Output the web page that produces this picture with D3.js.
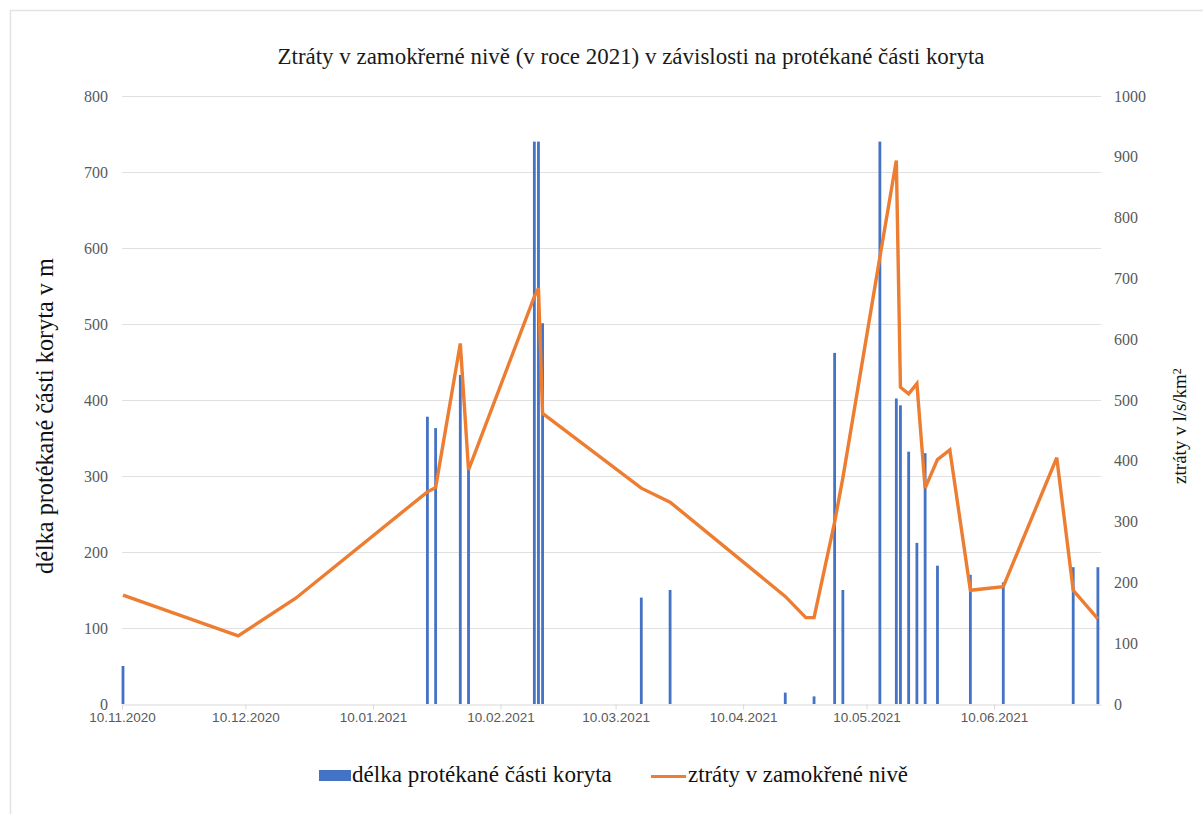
<!DOCTYPE html>
<html>
<head>
<meta charset="utf-8">
<script src="https://cdn.jsdelivr.net/npm/d3@7/dist/d3.min.js"></script>
<style>
  html, body { margin: 0; padding: 0; background: #fff; }
  svg { display: block; }
</style>
</head>
<body>
<svg id="chart" width="1203" height="814"></svg>
<script>
// Measurement dates (shared by both series)
const dates = ["2020-11-10","2020-12-08","2020-12-22","2021-01-23","2021-01-25","2021-01-31",
  "2021-02-02","2021-02-18","2021-02-19","2021-02-20","2021-03-16","2021-03-23","2021-04-20",
  "2021-04-25","2021-04-27","2021-05-02","2021-05-04","2021-05-13","2021-05-17","2021-05-18",
  "2021-05-20","2021-05-22","2021-05-24","2021-05-27","2021-05-30","2021-06-04","2021-06-12",
  "2021-06-25","2021-06-29","2021-07-05"];

// Length of the flowing part of the channel [m] (left axis); null = no bar
const delka = [50,null,null,378,363,433,312,740,740,501,140,150,15,null,10,462,150,740,402,393,
  332,212,330,182,null,170,160,null,180,180];

// Losses in the wetland floodplain [l/s/km²] (right axis)
const ztraty = [179,112,174,349,356,593,385,670,684,478,355,332,177,142,142,299,372,735,894,521,
  510,527,355,402,418,187,193,405,187,140];

const xTickLabels = ["10.11.2020","10.12.2020","10.01.2021","10.02.2021","10.03.2021",
  "10.04.2021","10.05.2021","10.06.2021"];
const leftTicks = [0,100,200,300,400,500,600,700,800];
const rightTicks = [0,100,200,300,400,500,600,700,800,900,1000];

const titleText = "Ztráty v zamokřerné nivě (v roce 2021) v závislosti na protékané části koryta";
const leftLabel = "délka protékané části koryta v m";
const legendBar = "délka protékané části koryta";
const legendLine = "ztráty v zamokřené nivě";

const parse = d3.timeParse("%Y-%m-%d");
const parseTick = d3.timeParse("%d.%m.%Y");
const rows = dates.map((d, i) => ({ date: parse(d), bar: delka[i], line: ztraty[i] }));

const svg = d3.select("#chart");
const serif = "'Liberation Serif', 'Times New Roman', serif";
const sans = "'Liberation Sans', Arial, sans-serif";

// chart frame
svg.append("path").attr("d", "M10.5,814 V10.5 H1203").attr("fill", "none")
  .attr("stroke", "#e3e3e3").attr("stroke-width", 1.5);

const plotLeft = 122, plotRight = 1101, plotTop = 96, plotBottom = 704;

const x = d3.scaleTime()
  .domain([parse("2020-11-10"), parse("2021-07-06")])
  .range([plotLeft, plotRight]);
const yL = d3.scaleLinear().domain([0, 800]).range([plotBottom, plotTop]);
const yR = d3.scaleLinear().domain([0, 1000]).range([plotBottom, plotTop]);

// gridlines
svg.append("g").selectAll("line").data(leftTicks.slice(1)).join("line")
  .attr("x1", plotLeft).attr("x2", plotRight)
  .attr("y1", d => yL(d) + 0.5).attr("y2", d => yL(d) + 0.5)
  .attr("stroke", "#e0e0e0").attr("stroke-width", 1);

// x axis
const xTicks = xTickLabels.map(parseTick);
const xAxis = d3.axisBottom(x).tickValues(xTicks).tickFormat(d3.timeFormat("%d.%m.%Y"))
  .tickSize(5).tickSizeOuter(0).tickPadding(3);
const gx = svg.append("g").attr("transform", `translate(0,${plotBottom + 0.5})`).call(xAxis);
gx.select(".domain").attr("stroke", "#d9d9d9");
gx.selectAll(".tick line").attr("stroke", "#d9d9d9");
gx.selectAll(".tick text").attr("font-family", sans).attr("font-size", 13.5)
  .attr("fill", "#595959").attr("dy", "0.72em");

// left axis
const gl = svg.append("g").attr("transform", `translate(${plotLeft},0)`)
  .call(d3.axisLeft(yL).tickValues(leftTicks).tickFormat(d3.format("d")).tickSize(0).tickPadding(14));
gl.select(".domain").remove();
gl.attr("font-family", serif);
gl.selectAll(".tick text").attr("font-family", serif).attr("font-size", 16).attr("fill", "#595959");

// right axis
const gr = svg.append("g").attr("transform", `translate(${plotRight},0)`)
  .call(d3.axisRight(yR).tickValues(rightTicks).tickFormat(d3.format("d")).tickSize(0).tickPadding(13));
gr.select(".domain").remove();
gr.attr("font-family", serif);
gr.selectAll(".tick text").attr("font-family", serif).attr("font-size", 16).attr("fill", "#595959");

// bars
const barW = 2.8;
svg.append("g").selectAll("rect").data(rows.filter(r => r.bar != null)).join("rect")
  .attr("x", d => x(d.date) - barW / 2 + 1)
  .attr("y", d => yL(d.bar))
  .attr("width", barW)
  .attr("height", d => yL(0) - yL(d.bar))
  .attr("fill", "#4472C4");

// line
const line = d3.line().x(d => x(d.date) + 1).y(d => yR(d.line));
svg.append("path").datum(rows).attr("d", line)
  .attr("fill", "none").attr("stroke", "#ED7D31").attr("stroke-width", 3.4)
  .attr("stroke-linejoin", "miter").attr("stroke-miterlimit", 3);

// helper: scale a text's font size so it spans the given width
function fitWidth(sel, width) {
  const node = sel.node();
  const fs = parseFloat(sel.attr("font-size"));
  const w = node.getComputedTextLength();
  if (w > 0) sel.attr("font-size", (fs * width / w).toFixed(2));
}

// title
const title = svg.append("text").attr("x", 631).attr("y", 64).attr("text-anchor", "middle")
  .attr("font-family", serif).attr("font-size", 20).attr("fill", "#1a1a1a").text(titleText);
fitWidth(title, 707);

// left axis title
const lt = svg.append("text").attr("transform", "translate(53,416) rotate(-90)")
  .attr("text-anchor", "middle").attr("font-family", serif).attr("font-size", 20)
  .attr("fill", "#111").text(leftLabel);
fitWidth(lt, 316);

// right axis title
const rt = svg.append("text").attr("transform", "translate(1186,426) rotate(-90)")
  .attr("text-anchor", "middle").attr("font-family", serif).attr("font-size", 19)
  .attr("fill", "#111");
rt.append("tspan").text("ztráty v l/s/km");
rt.append("tspan").attr("dy", "-0.45em").attr("font-size", 12).text("2");

// legend
svg.append("rect").attr("x", 319).attr("y", 770).attr("width", 32).attr("height", 11)
  .attr("fill", "#4472C4");
const l1 = svg.append("text").attr("x", 352).attr("y", 782).attr("font-family", serif)
  .attr("font-size", 18).attr("fill", "#111").text(legendBar);
fitWidth(l1, 260);
svg.append("line").attr("x1", 651).attr("x2", 686).attr("y1", 776.5).attr("y2", 776.5)
  .attr("stroke", "#ED7D31").attr("stroke-width", 3);
const l2 = svg.append("text").attr("x", 688).attr("y", 782).attr("font-family", serif)
  .attr("font-size", 18).attr("fill", "#111").text(legendLine);
fitWidth(l2, 220);
</script>
</body>
</html>
